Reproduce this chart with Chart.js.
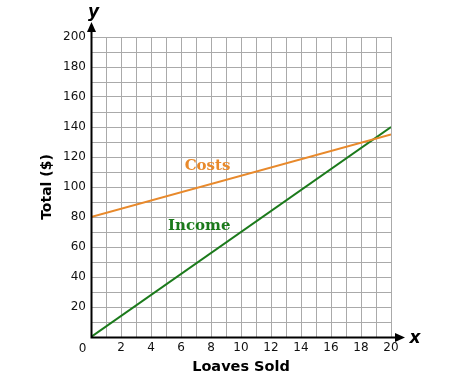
<!DOCTYPE html>
<html>
<head>
<meta charset="utf-8">
<script src="https://cdn.jsdelivr.net/npm/chart.js@4/dist/chart.umd.min.js"></script>
<style>
  html, body { margin: 0; padding: 0; background: #fff; }
  #wrap { width: 455px; height: 384px; }
</style>
</head>
<body>
<div id="wrap"><canvas id="c" width="455" height="384"></canvas></div>
<script>
// ---- data ----
const loaves = [0, 20];
const costs = [80, 135];
const income = [0, 140];
const xTickLabels = ['2', '4', '6', '8', '10', '12', '14', '16', '18', '20'];
const yTickLabels = ['20', '40', '60', '80', '100', '120', '140', '160', '180', '200'];
const seriesNames = ['Costs', 'Income'];
const xTitle = 'Loaves Sold';
const yTitle = 'Total ($)';

const ORANGE = '#e8892b';
const GREEN = '#1b7a1b';

const toPoints = (xs, ys) => xs.map((x, i) => ({ x: x, y: ys[i] }));

const decor = {
  id: 'decor',
  afterDatasetsDraw(chart) {
    const ctx = chart.ctx;
    const xs = chart.scales.x, ys = chart.scales.y;
    const x0 = Math.round(xs.getPixelForValue(0)) + 0.5;
    const y0 = Math.round(ys.getPixelForValue(0)) + 0.5;
    const top = ys.getPixelForValue(200);
    const right = xs.getPixelForValue(20);
    ctx.save();
    ctx.strokeStyle = '#000';
    ctx.fillStyle = '#000';
    ctx.lineWidth = 2;
    ctx.beginPath();
    ctx.moveTo(x0, y0);
    ctx.lineTo(x0, top - 6);
    ctx.moveTo(x0 - 1, y0);
    ctx.lineTo(right + 6, y0);
    ctx.stroke();
    // arrow heads
    ctx.beginPath();
    ctx.moveTo(x0, top - 15);
    ctx.lineTo(x0 - 4.5, top - 5);
    ctx.lineTo(x0 + 4.5, top - 5);
    ctx.closePath();
    ctx.fill();
    ctx.beginPath();
    ctx.moveTo(right + 14, y0);
    ctx.lineTo(right + 4, y0 - 4.5);
    ctx.lineTo(right + 4, y0 + 4.5);
    ctx.closePath();
    ctx.fill();
    // axis letters
    ctx.font = 'italic bold 17px "DejaVu Sans"';
    ctx.textAlign = 'center';
    ctx.textBaseline = 'middle';
    ctx.fillText('y', x0 + 2, top - 24);
    ctx.fillText('x', right + 24, y0 + 1);
    // origin label
    ctx.font = '12px "DejaVu Sans"';
    ctx.textAlign = 'right';
    ctx.fillStyle = '#111';
    ctx.fillText('0', x0 - 5, y0 + 11);
    // series labels
    ctx.font = 'bold 15px "DejaVu Serif"';
    ctx.textAlign = 'center';
    ctx.fillStyle = ORANGE;
    ctx.fillText(seriesNames[0], xs.getPixelForValue(7.77), ys.getPixelForValue(113.8));
    ctx.fillStyle = GREEN;
    ctx.fillText(seriesNames[1], xs.getPixelForValue(7.22), ys.getPixelForValue(73.8));
    ctx.restore();
  }
};

new Chart(document.getElementById('c'), {
  type: 'scatter',
  data: {
    datasets: [
      { label: seriesNames[0], data: toPoints(loaves, costs), showLine: true, borderColor: ORANGE, borderWidth: 2, pointRadius: 0, fill: false },
      { label: seriesNames[1], data: toPoints(loaves, income), showLine: true, borderColor: GREEN, borderWidth: 2, pointRadius: 0, fill: false }
    ]
  },
  options: {
    responsive: false,
    devicePixelRatio: 1,
    animation: false,
    layout: { padding: { left: 0, top: 37, right: 64, bottom: 0 } },
    plugins: { legend: { display: false }, tooltip: { enabled: false } },
    scales: {
      x: {
        type: 'linear', min: 0, max: 20,
        afterFit(s) { s.height = 47; },
        border: { display: false },
        grid: { color: '#aaaaaa', lineWidth: 1, drawTicks: false },
        ticks: {
          stepSize: 1, padding: 4, color: '#111', maxRotation: 0, autoSkip: false,
          font: { family: '"DejaVu Sans"', size: 12 },
          callback: (v) => { const s = String(v); return xTickLabels.includes(s) ? s : ''; }
        },
        title: { display: true, text: xTitle, color: '#000', padding: { top: 0, bottom: 8 },
                 font: { family: '"DejaVu Sans"', size: 14.5, weight: 'bold' } }
      },
      y: {
        type: 'linear', min: 0, max: 200,
        afterFit(s) { s.width = 91; },
        border: { display: false },
        grid: { color: '#aaaaaa', lineWidth: 1, drawTicks: false },
        ticks: {
          stepSize: 10, padding: 5, color: '#111', autoSkip: false,
          font: { family: '"DejaVu Sans"', size: 12 },
          callback: (v) => { const s = String(v); return yTickLabels.includes(s) ? s : ''; }
        },
        title: { display: true, text: yTitle, color: '#000', padding: { top: 39, bottom: 0 },
                 font: { family: '"DejaVu Sans"', size: 14, weight: 'bold' } }
      }
    }
  },
  plugins: [decor]
});
</script>
</body>
</html>
